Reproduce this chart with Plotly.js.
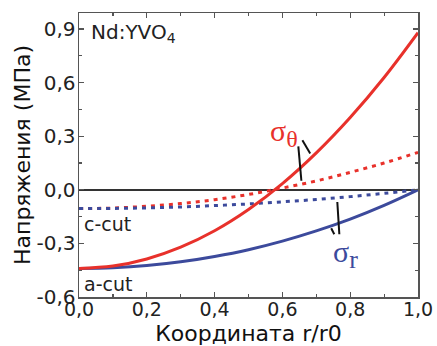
<!DOCTYPE html>
<html>
<head>
<meta charset="utf-8">
<script src="https://cdn.plot.ly/plotly-3.0.1.min.js"></script>
<style>html,body{margin:0;padding:0;background:#fff;}#chart{width:437px;height:346px;}</style>
</head>
<body>
<div id="chart"></div>
<script>
// r/r0 coordinate
const r = [0.0, 0.1, 0.2, 0.3, 0.4, 0.5, 0.6, 0.7, 0.8, 0.9, 1.0];
// a-cut stresses (MPa)
const aCutTheta = [-0.44, -0.427, -0.387, -0.321, -0.229, -0.11, 0.035, 0.207, 0.405, 0.629, 0.88];
const aCutR     = [-0.44, -0.436, -0.424, -0.403, -0.373, -0.335, -0.287, -0.230, -0.164, -0.087, 0.0];
// c-cut stresses (MPa)
const cCutTheta = [-0.105, -0.102, -0.092, -0.077, -0.055, -0.026, 0.010, 0.050, 0.098, 0.150, 0.21];
const cCutR     = [-0.105, -0.104, -0.101, -0.096, -0.088, -0.079, -0.067, -0.054, -0.038, -0.020, 0.0];
// tick labels
const xTickVals = [0.0, 0.2, 0.4, 0.6, 0.8, 1.0];
const xTickText = ['0,0', '0,2', '0,4', '0,6', '0,8', '1,0'];
const yTickVals = [-0.6, -0.3, 0.0, 0.3, 0.6, 0.9];
const yTickText = ['-0,6', '-0,3', '0,0', '0,3', '0,6', '0,9'];

const red = '#e8312b';
const blue = '#3c4a9c';
const dots = '4px,5px';

const traces = [
  {x: r, y: cCutTheta, mode: 'lines', line: {color: red, width: 3, dash: dots, shape: 'spline'}},
  {x: r, y: cCutR, mode: 'lines', line: {color: blue, width: 3, dash: dots, shape: 'spline'}},
  {x: r, y: aCutR, mode: 'lines', line: {color: blue, width: 3, shape: 'spline'}},
  {x: r, y: aCutTheta, mode: 'lines', line: {color: red, width: 3, shape: 'spline'}}
];

const font = 'DejaVu Sans, Arial, sans-serif';
const axisCommon = {
  showline: true, linecolor: '#555', linewidth: 1.5, mirror: 'allticks',
  ticks: 'inside', ticklen: 5, tickwidth: 1.2, tickcolor: '#555',
  showgrid: false, tickmode: 'array'
};

const layout = {
  width: 437, height: 346,
  margin: {l: 79, r: 19, t: 13, b: 49},
  paper_bgcolor: '#fff', plot_bgcolor: '#fff',
  showlegend: false,
  xaxis: Object.assign({}, axisCommon, {
    range: [0, 1], tickvals: xTickVals, ticktext: xTickText, zeroline: false,
    tickfont: {family: font, size: 19, color: '#222'},
    ticklabelstandoff: -5,
    minor: {tickmode: 'linear', tick0: 0, dtick: 0.1, ticks: 'inside', ticklen: 3, tickcolor: '#555', showgrid: false},
    title: {text: 'Координата r/r0', font: {family: font, size: 22, color: '#111'}, standoff: 9}
  }),
  yaxis: Object.assign({}, axisCommon, {
    range: [-0.6, 0.99], tickvals: yTickVals, ticktext: yTickText,
    tickfont: {family: font, size: 20, color: '#222'},
    ticklabelstandoff: -2,
    zeroline: true, zerolinecolor: '#333', zerolinewidth: 1.5,
    minor: {tickmode: 'linear', tick0: 0, dtick: 0.15, ticks: 'inside', ticklen: 3, tickcolor: '#555', showgrid: false},
    title: {text: 'Напряжения (МПа)', font: {family: font, size: 22, color: '#111'}, standoff: 0}
  }),
  annotations: [
    {x: 0.03, y: 0.88, xref: 'x', yref: 'y', xanchor: 'left', yanchor: 'middle', showarrow: false,
     text: 'Nd:YVO<sub>4</sub>', font: {family: font, size: 20, color: '#222'}},
    {x: 0.008, y: -0.19, xref: 'x', yref: 'y', xanchor: 'left', yanchor: 'middle', showarrow: false,
     text: 'c-cut', font: {family: font, size: 19, color: '#222'}},
    {x: 0.008, y: -0.525, xref: 'x', yref: 'y', xanchor: 'left', yanchor: 'middle', showarrow: false,
     text: 'a-cut', font: {family: font, size: 19, color: '#222'}},
    {x: 0.605, y: 0.32, xref: 'x', yref: 'y', xanchor: 'center', yanchor: 'middle', showarrow: false,
     text: 'σ<sub><span style="font-size:24px">θ</span></sub>', font: {family: 'Liberation Serif, serif', size: 30, color: red}},
    {x: 0.785, y: -0.36, xref: 'x', yref: 'y', xanchor: 'center', yanchor: 'middle', showarrow: false,
     text: 'σ<sub><span style="font-size:26px">r</span></sub>', font: {family: 'Liberation Serif, serif', size: 30, color: blue}}
  ],
  shapes: [
    {type: 'line', xref: 'x', yref: 'y', x0: 0.647, y0: 0.243, x1: 0.656, y1: 0.051, line: {color: '#111', width: 2}},
    {type: 'line', xref: 'x', yref: 'y', x0: 0.659, y0: 0.277, x1: 0.682, y1: 0.204, line: {color: '#111', width: 2}},
    {type: 'line', xref: 'x', yref: 'y', x0: 0.762, y0: -0.068, x1: 0.768, y1: -0.249, line: {color: '#111', width: 2}},
    {type: 'line', xref: 'x', yref: 'y', x0: 0.744, y0: -0.215, x1: 0.753, y1: -0.249, line: {color: '#111', width: 2}}
  ]
};

Plotly.newPlot('chart', traces, layout, {displayModeBar: false, staticPlot: true});
</script>
</body>
</html>
